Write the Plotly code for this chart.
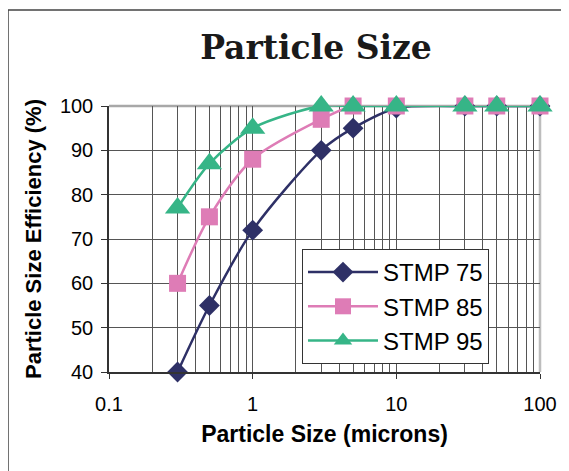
import plotly.graph_objects as go

particle_size = [0.3, 0.5, 1, 3, 5, 10, 30, 50, 100]
stmp75 = [40, 55, 72, 90, 95, 99.5, 100, 100, 100]
stmp85 = [60, 75, 88, 97, 100, 100, 100, 100, 100]
stmp95 = [77, 87, 95, 100, 100, 100, 100, 100, 100]
series_names = ["STMP 75", "STMP 85", "STMP 95"]
x_tick_vals = [0.1, 1, 10, 100]
x_tick_text = ["0.1", "1", "10", "100"]
y_tick_vals = [40, 50, 60, 70, 80, 90, 100]

colors = ["#2E3066", "#DE7CB6", "#36B587"]
symbols = ["diamond", "square", "triangle-up"]
sizes = [16, 17, 22]

OFF = 8  # default page body margin
W, H = 569 - OFF, 471 - OFF
ML, MR, MT, MB = 109 - OFF, 29, 106 - OFF, 99
PW, PH = W - ML - MR, H - MT - MB

fig = go.Figure()
for name, vals, c, s, sz in zip(series_names, [stmp75, stmp85, stmp95], colors, symbols, sizes):
    fig.add_trace(go.Scatter(
        x=particle_size, y=vals, name=name, mode="lines+markers",
        line=dict(color=c, width=2.5, shape="spline", smoothing=0.8),
        marker=dict(symbol=s, size=sz, color=c),
        cliponaxis=False,
    ))

minor_vals = [m * d for d in [0.1, 1, 10] for m in range(2, 10)]

fig.update_layout(
    width=W, height=H,
    margin=dict(l=ML, r=MR, t=MT, b=MB),
    paper_bgcolor="white", plot_bgcolor="white",
    title=dict(text="<b>Particle Size</b>", x=(316 - OFF) / W, xanchor="center",
               y=1 - (47 - OFF) / H, yanchor="middle",
               font=dict(family="DejaVu Serif", size=33, color="#1a1a1a")),
    font=dict(family="Liberation Sans, Arial", color="black"),
    xaxis=dict(
        type="log", range=[-1, 2],
        tickmode="array", tickvals=x_tick_vals, ticktext=x_tick_text,
        tickfont=dict(size=20), ticks="outside", ticklen=5, tickcolor="#333",
        ticklabelstandoff=8,
        showgrid=True, gridcolor="#555", gridwidth=1,
        minor=dict(tickmode="array", tickvals=minor_vals, showgrid=True,
                   gridcolor="#555", gridwidth=1, ticks=""),
        showline=True, linecolor="#333", linewidth=1.5,
        title=dict(text="<b>Particle Size (microns)</b>", font=dict(size=23), standoff=12),
        zeroline=False,
    ),
    yaxis=dict(
        range=[40, 100], tickmode="array", tickvals=y_tick_vals,
        tickfont=dict(size=20), ticks="outside", ticklen=6, tickcolor="#333",
        ticklabelstandoff=4,
        showgrid=True, gridcolor="#555", gridwidth=1,
        showline=True, linecolor="#333", linewidth=1.5,
        title=dict(text="<b>Particle Size Efficiency (%)</b>", font=dict(size=22), standoff=12),
        zeroline=False,
    ),
    legend=dict(
        x=(302 - OFF - ML) / PW, y=1 - (249 - OFF - MT) / PH, xanchor="left", yanchor="top",
        bgcolor="white", bordercolor="#333", borderwidth=1,
        font=dict(size=24, family="Liberation Sans, Arial"),
        itemwidth=70, tracegroupgap=4,
    ),
    showlegend=True,
)

# gray top and right plot border
fig.add_shape(type="line", xref="x domain", yref="y domain", x0=0, x1=1, y0=1, y1=1,
              line=dict(color="#A8A8A8", width=2.5), layer="below")
fig.add_shape(type="line", xref="x domain", yref="y domain", x0=1, x1=1, y0=0, y1=1,
              line=dict(color="#BDBDBD", width=2.5), layer="below")
# outer chart border
fig.add_shape(type="rect", xref="paper", yref="paper",
              x0=(8 - OFF - ML) / PW, x1=(W + 10 - ML) / PW,
              y0=1 - (H + 10 - MT) / PH, y1=1 - (10 - OFF - MT) / PH,
              line=dict(color="#444", width=1.5), layer="below")

fig.write_html("out.html")
